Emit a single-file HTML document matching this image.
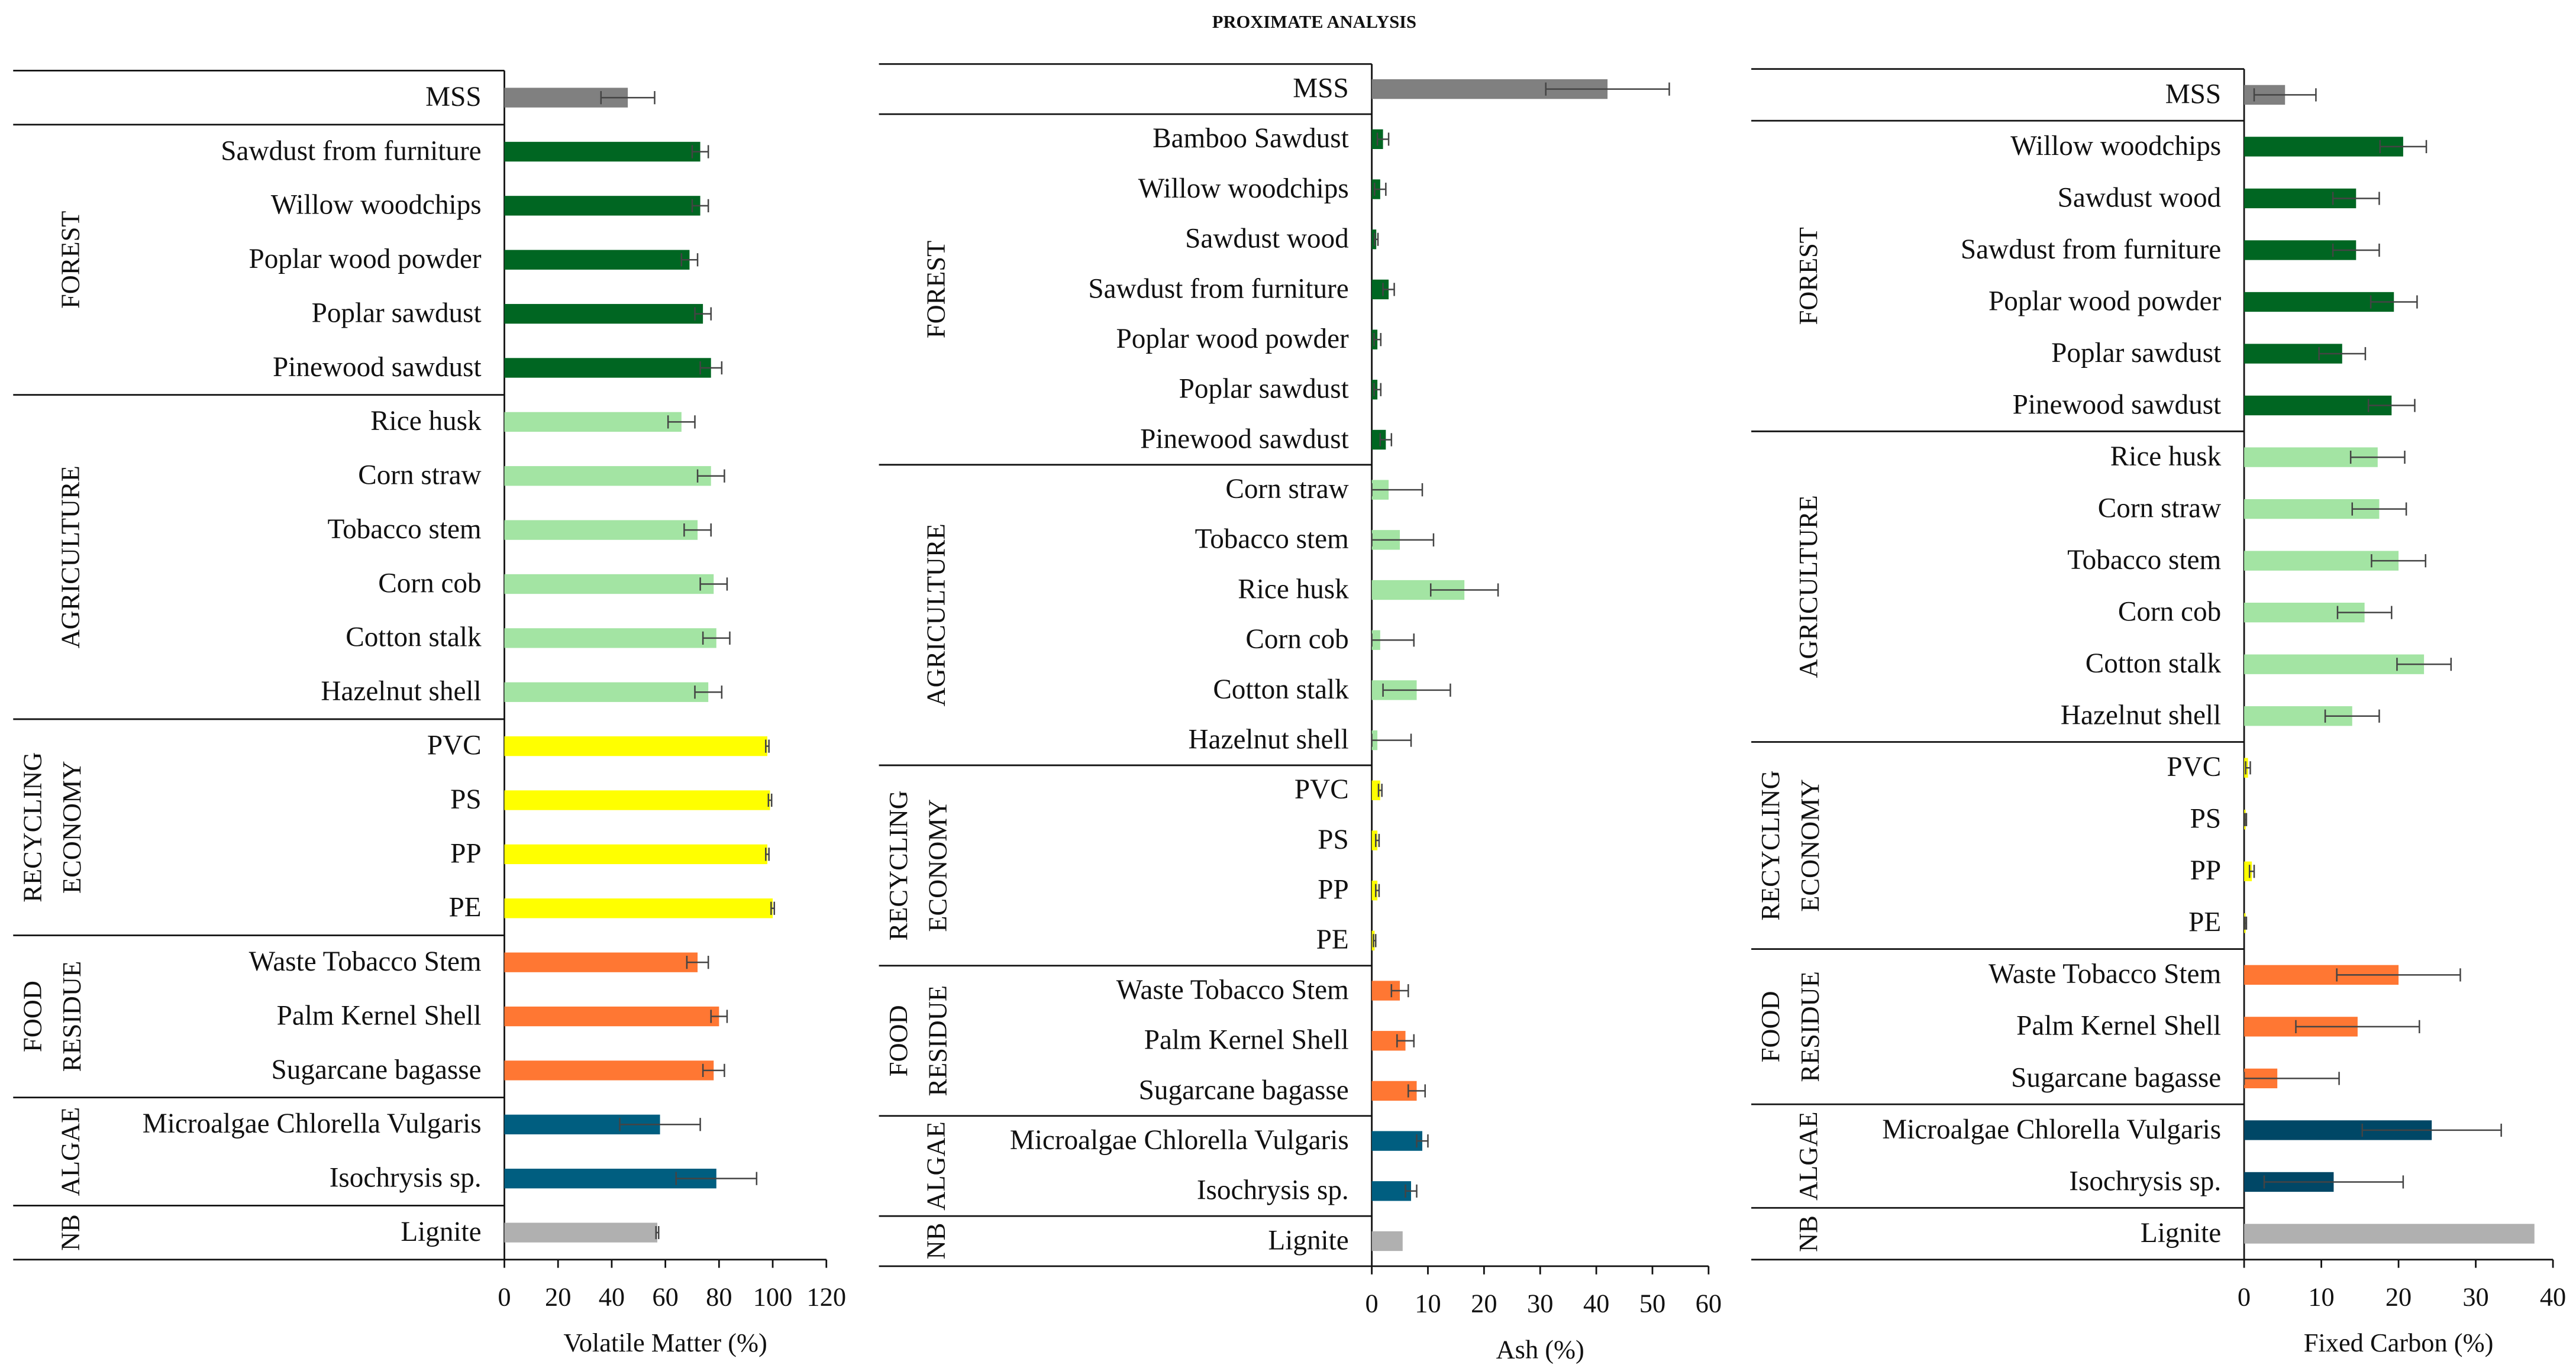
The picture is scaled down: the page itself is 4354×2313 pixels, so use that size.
<!DOCTYPE html>
<html><head><meta charset="utf-8"><style>
html,body{margin:0;padding:0;background:#fff;}
svg{display:block;}
text{font-family:"Liberation Serif",serif;fill:#111;}
</style></head><body>
<svg id="chart" xmlns="http://www.w3.org/2000/svg" width="4354" height="2313" viewBox="0 0 1568 833">
<rect width="1568" height="833" fill="#fff"/>
<text x="800" y="17" text-anchor="middle" font-size="11" font-weight="bold">PROXIMATE ANALYSIS</text>
</svg>
<script>
const vmCategories=["MSS","Sawdust from furniture","Willow woodchips","Poplar wood powder","Poplar sawdust","Pinewood sawdust","Rice husk","Corn straw","Tobacco stem","Corn cob","Cotton stalk","Hazelnut shell","PVC","PS","PP","PE","Waste Tobacco Stem","Palm Kernel Shell","Sugarcane bagasse","Microalgae Chlorella Vulgaris","Isochrysis sp.","Lignite"];
const vmValues=[46,73,73,69,74,77,66,77,72,78,79,76,98,99,98,100,72,80,78,58,79,57];
const vmErrors=[10,3,3,3,3,4,5,5,5,5,5,5,0.6,0.6,0.6,0.6,4,3,4,15,15,0.5];
const vmGroups=["MSS","F","F","F","F","F","A","A","A","A","A","A","R","R","R","R","D","D","D","G","G","N"];
const vmTicks=[0,20,40,60,80,100,120];

const ashCategories=["MSS","Bamboo Sawdust","Willow woodchips","Sawdust wood","Sawdust from furniture","Poplar wood powder","Poplar sawdust","Pinewood sawdust","Corn straw","Tobacco stem","Rice husk","Corn cob","Cotton stalk","Hazelnut shell","PVC","PS","PP","PE","Waste Tobacco Stem","Palm Kernel Shell","Sugarcane bagasse","Microalgae Chlorella Vulgaris","Isochrysis sp.","Lignite"];
const ashValues=[42,2,1.5,0.8,3,1,1,2.5,3,5,16.5,1.5,8,1,1.5,1,1,0.5,5,6,8,9,7,5.5];
const ashErrors=[11,1,1,0.3,1,0.6,0.6,1,6,6,6,6,6,6,0.3,0.3,0.3,0.2,1.5,1.5,1.5,1,1,0];
const ashGroups=["MSS","F","F","F","F","F","F","F","A","A","A","A","A","A","R","R","R","R","D","D","D","G","G","N"];
const ashTicks=[0,10,20,30,40,50,60];

const fcCategories=["MSS","Willow woodchips","Sawdust wood","Sawdust from furniture","Poplar wood powder","Poplar sawdust","Pinewood sawdust","Rice husk","Corn straw","Tobacco stem","Corn cob","Cotton stalk","Hazelnut shell","PVC","PS","PP","PE","Waste Tobacco Stem","Palm Kernel Shell","Sugarcane bagasse","Microalgae Chlorella Vulgaris","Isochrysis sp.","Lignite"];
const fcValues=[5.3,20.6,14.5,14.5,19.4,12.7,19.1,17.3,17.5,20,15.6,23.3,14,0.5,0.2,1,0.2,20,14.7,4.3,24.3,11.6,37.6];
const fcErrors=[4,3,3,3,3,3,3,3.5,3.5,3.5,3.5,3.5,3.5,0.3,0.1,0.3,0.1,8,8,8,9,9,0];
const fcGroups=["MSS","F","F","F","F","F","F","A","A","A","A","A","A","R","R","R","R","D","D","D","G","G","N"];
const fcTicks=[0,10,20,30,40];

const NS="http://www.w3.org/2000/svg";
const svg=document.getElementById("chart");
function mk(tag,attrs,parent){const e=document.createElementNS(NS,tag);for(const k in attrs)e.setAttribute(k,attrs[k]);(parent||svg).appendChild(e);return e;}

function panel(cfg){
  const {cats,vals,errs,groups,ticks,left,axisX,top,bottom,axisRight,title,colors,id}=cfg;
  const g=mk("g",{});
  
  
  const n=cats.length, rh=(bottom-top)/n;
  const maxT=ticks[ticks.length-1];
  const xs=v=>axisX+(v/maxT)*(axisRight-axisX);
  const bounds=[0];
  for(let i=1;i<n;i++) if(groups[i]!==groups[i-1]) bounds.push(i);
  bounds.push(n);
  bounds.forEach(b=>{const l=mk("line",{x1:left,x2:axisX,y1:top+b*rh,y2:top+b*rh,stroke:"#111","stroke-width":1},g);
    
    });
  const ax=mk("line",{x1:axisX,x2:axisX,y1:top,y2:bottom,stroke:"#111","stroke-width":1},g);
  
  
  const xa=mk("line",{x1:axisX,x2:axisRight,y1:bottom,y2:bottom,stroke:"#111","stroke-width":1},g);
  
  
  ticks.forEach(t=>{
    const tl=mk("line",{x1:xs(t),x2:xs(t),y1:bottom,y2:bottom+5,stroke:"#111","stroke-width":1},g);
    
    
    const tt=mk("text",{x:xs(t),y:bottom+28,"text-anchor":"middle","font-size":16},g);
    tt.textContent=t;
    
    
  });
  const at=mk("text",{x:(axisX+axisRight)/2,y:bottom+56,"text-anchor":"middle","font-size":16},g);
  at.textContent=title;
  
  
  const glabels={F:["FOREST"],A:["AGRICULTURE"],R:["RECYCLING","ECONOMY"],D:["FOOD","RESIDUE"],G:["ALGAE"],N:["NB"]};
  for(let b=0;b<bounds.length-1;b++){
    const gk=groups[bounds[b]]; if(!glabels[gk]) continue;
    const cy=top+(bounds[b]+bounds[b+1])/2*rh;
    const lines=glabels[gk];
    lines.forEach((s,i)=>{
      const x=lines.length===1?left+40:left+17+i*24;
      const t=mk("text",{x:x,y:cy,"text-anchor":"middle","font-size":16,transform:`rotate(-90 ${x} ${cy})`},g);
      t.textContent=s;
      
      
    });
  }
  cats.forEach((c,i)=>{
    const cy=top+(i+0.5)*rh;
    const t=mk("text",{x:axisX-14,y:cy+5,"text-anchor":"end","font-size":17},g);
    t.textContent=c;
    
    
    const col=(i===cats.length-1)?colors.N:colors[groups[i]];
    const r=mk("rect",{x:axisX,y:cy-6,width:Math.max(0.5,xs(vals[i])-axisX),height:12,fill:col},g);
    
    
    if(errs[i]>0){
      const x1=xs(Math.max(0,vals[i]-errs[i])),x2=xs(vals[i]+errs[i]);
      const e=mk("path",{d:`M${x1},${cy}H${x2}M${x1},${cy-4}V${cy+4}M${x2},${cy-4}V${cy+4}`,stroke:"#444","stroke-width":0.9,fill:"none"},g);
      
      
    }
  });
}
const baseColors={MSS:"#808080",F:"#006622",A:"#a3e4a3",R:"#ffff00",D:"#ff7733",G:"#005e80",N:"#b0b0b0"};
panel({id:"volatile-matter",cats:vmCategories,vals:vmValues,errs:vmErrors,groups:vmGroups,ticks:vmTicks,left:8,axisX:307,top:43,bottom:767,axisRight:503,title:"Volatile Matter (%)",colors:baseColors});
panel({id:"ash",cats:ashCategories,vals:ashValues,errs:ashErrors,groups:ashGroups,ticks:ashTicks,left:535,axisX:835,top:39,bottom:771,axisRight:1040,title:"Ash (%)",colors:baseColors});
panel({id:"fixed-carbon",cats:fcCategories,vals:fcValues,errs:fcErrors,groups:fcGroups,ticks:fcTicks,left:1066,axisX:1366,top:42,bottom:767,axisRight:1554,title:"Fixed Carbon (%)",colors:Object.assign({},baseColors,{G:"#004766"})});
</script>
</body></html>
